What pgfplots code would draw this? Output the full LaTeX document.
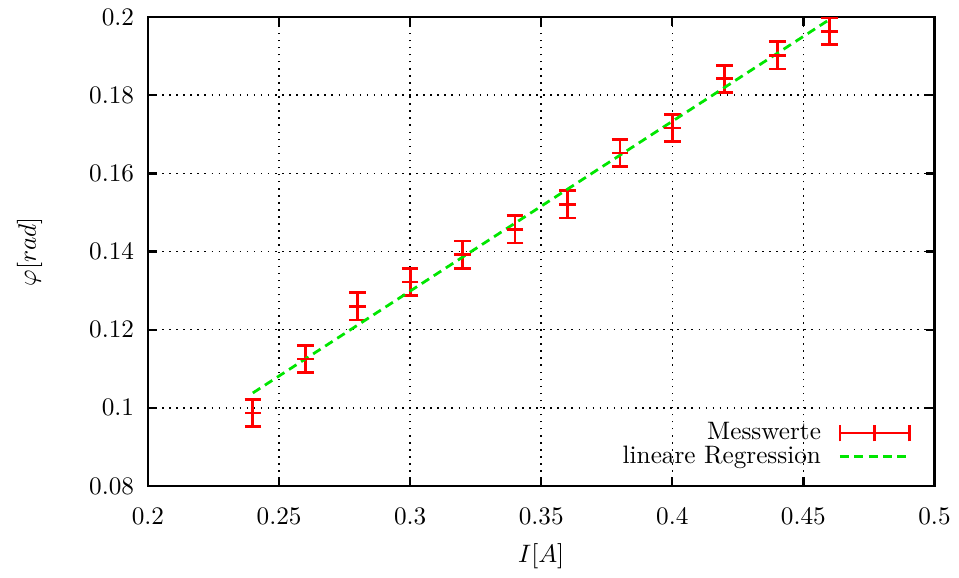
\documentclass[border=0pt]{standalone}
\usepackage{pgfplots}
\pgfplotsset{compat=1.18}

\definecolor{gpred}{RGB}{255,0,0}
\definecolor{gpgreen}{RGB}{0,230,0}

\begin{document}
\begin{tikzpicture}
\begin{axis}[
  scale only axis,
  width=312pt, height=186pt,
  xmin=0.2, xmax=0.5,
  ymin=0.08, ymax=0.2,
  xtick={0.2,0.25,...,0.5},
  ytick={0.08,0.1,...,0.2},
  xticklabels={0.2,0.25,0.3,0.35,0.4,0.45,0.5},
  yticklabels={0.08,0.1,0.12,0.14,0.16,0.18,0.2},
  xticklabel style={yshift=-5pt},
  yticklabel style={xshift=-2pt},
  tick align=inside,
  major tick length=3.5pt,
  axis line style={line width=0.9pt},
  every tick/.style={black, line width=0.9pt},
  grid=major,
  major grid style={black, dash pattern=on 0.6pt off 2.2pt, line width=0.6pt},
  xlabel={$I[A]$},
  ylabel={$\varphi[rad]$},
  every axis x label/.style={at={(rel axis cs:0.5,0)}, yshift=-28pt, anchor=center},
  every axis y label/.style={at={(rel axis cs:0,0.5)}, xshift=-47pt, rotate=90, anchor=center},
  legend style={draw=none, fill=none, at={(0.98,0.017)}, anchor=south east,
    row sep=-3pt, font=\normalsize,
    /tikz/every odd column/.append style={column sep=5pt}},
  legend cell align=right,
  legend plot pos=right,
]
\addplot[gpred, line width=1.1pt, only marks, forget plot,
  mark=-, mark size=3.3pt, mark options={line width=1.1pt},
  error bars/.cd, y dir=both, y explicit,
  error bar style={line width=1.1pt},
  error mark options={rotate=90, mark size=3.3pt, line width=1.1pt},
  ]
  table[x=x, y=y, y error=e] {
x     y       e
0.24  0.0987  0.0035
0.26  0.1125  0.0035
0.28  0.1260  0.0035
0.30  0.1322  0.0035
0.32  0.1392  0.0035
0.34  0.1457  0.0035
0.36  0.1521  0.0035
0.38  0.1652  0.0035
0.40  0.1716  0.0035
0.42  0.1842  0.0035
0.44  0.1902  0.0035
0.46  0.1964  0.0035
};
\addlegendimage{legend image code/.code={
  \draw[gpred, line width=1.1pt] (0pt,0pt) -- (27.5pt,0pt);
  \draw[gpred, line width=1.1pt] (0pt,-3.3pt) -- (0pt,3.3pt);
  \draw[gpred, line width=1.1pt] (27.5pt,-3.3pt) -- (27.5pt,3.3pt);
  \draw[gpred, line width=1.1pt] (13.75pt,-3.3pt) -- (13.75pt,3.3pt);
}}
\addlegendentry{Messwerte}
\addplot[gpgreen, line width=1.1pt, dash pattern=on 3.5pt off 2.2pt,
  legend image code/.code={
    \draw[gpgreen, line width=1.1pt, dash pattern=on 3.5pt off 2.2pt] (0pt,0pt) -- (27.5pt,0pt);}]
  coordinates {(0.24,0.1038)(0.46,0.1994)};
\addlegendentry{lineare Regression}
\end{axis}
\path ([xshift=-58.7pt]current axis.south west);
\end{tikzpicture}
\end{document}
